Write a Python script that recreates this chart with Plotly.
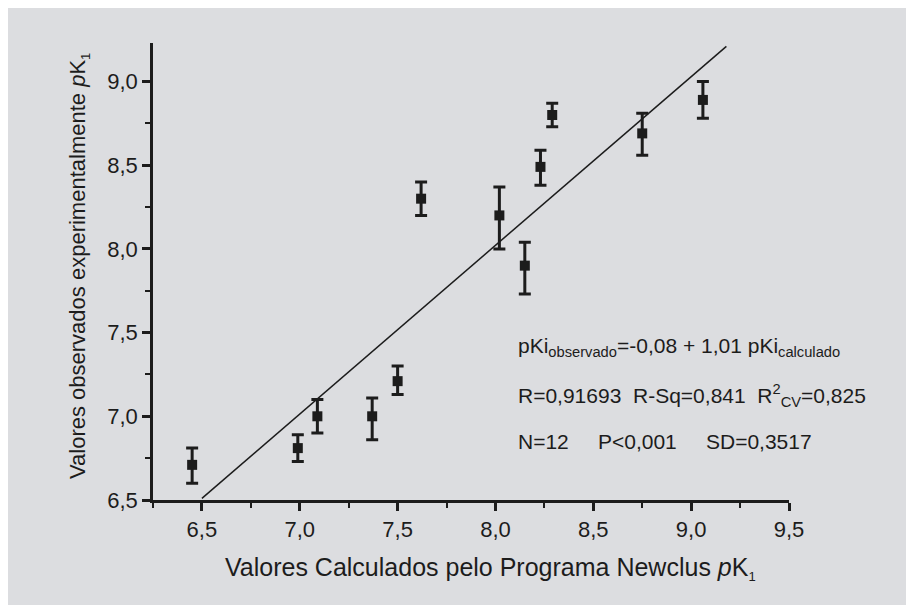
import plotly.graph_objects as go

# ---- data ----
calc_pk = [6.45, 6.99, 7.09, 7.37, 7.50, 7.62, 8.02, 8.15, 8.23, 8.29, 8.75, 9.06]
obs_pk = [6.71, 6.81, 7.00, 7.00, 7.21, 8.30, 8.20, 7.90, 8.49, 8.80, 8.69, 8.89]
err_plus = [0.10, 0.08, 0.10, 0.11, 0.09, 0.10, 0.17, 0.14, 0.10, 0.07, 0.12, 0.11]
err_minus = [0.11, 0.08, 0.10, 0.14, 0.08, 0.10, 0.20, 0.17, 0.11, 0.07, 0.13, 0.11]

fit_x = [6.50, 9.18]
fit_y = [6.51, 9.21]

x_tick_vals = [6.5, 7.0, 7.5, 8.0, 8.5, 9.0, 9.5]
x_tick_text = ["6,5", "7,0", "7,5", "8,0", "8,5", "9,0", "9,5"]
y_tick_vals = [6.5, 7.0, 7.5, 8.0, 8.5, 9.0]
y_tick_text = ["6,5", "7,0", "7,5", "8,0", "8,5", "9,0"]

stat_lines = [
    "pKi<sub>observado</sub>=-0,08 + 1,01 pKi<sub>calculado</sub>",
    "R=0,91693\u00a0\u00a0R-Sq=0,841\u00a0\u00a0R<sup>2</sup><sub>CV</sub>=0,825",
    "N=12\u00a0\u00a0\u00a0\u00a0\u00a0P<0,001\u00a0\u00a0\u00a0\u00a0\u00a0SD=0,3517",
]

BG = "#dcdde0"
INK = "#1c1c1c"
FONT = "Liberation Sans, Arial, sans-serif"

fig = go.Figure()

fig.add_trace(go.Scatter(
    x=fit_x, y=fit_y, mode="lines",
    line=dict(color=INK, width=1.5),
    showlegend=False, hoverinfo="skip",
))

fig.add_trace(go.Scatter(
    x=calc_pk, y=obs_pk, mode="markers",
    marker=dict(symbol="square", size=10, color=INK),
    error_y=dict(type="data", symmetric=False, array=err_plus, arrayminus=err_minus,
                 color=INK, thickness=3, width=6),
    showlegend=False,
))

W, H = 914, 605
OFF = 8  # page body margin
L, R, T, B = 145, 133, 35, 113
pw, ph = W - L - R, H - T - B

def px_x(p):  # p = page pixel
    return (p - OFF - L) / pw

def px_y(p):
    return (H - B - (p - OFF)) / ph

# statistics text
stat_y_px = [347, 395, 441]
for txt, yp in zip(stat_lines, stat_y_px):
    fig.add_annotation(text=txt, xref="paper", yref="paper",
                       x=px_x(516), y=px_y(yp), xanchor="left", yanchor="middle",
                       showarrow=False, font=dict(family=FONT, size=21, color=INK))

# axis titles
fig.add_annotation(text="Valores observados experimentalmente <i>p</i>K<sub><span style='font-size:13px'>1</span></sub>",
                   xref="paper", yref="paper", x=px_x(79), y=px_y(266),
                   xanchor="center", yanchor="middle", textangle=-90, showarrow=False,
                   font=dict(family=FONT, size=22, color=INK))
fig.add_annotation(text="Valores Calculados pelo Programa Newclus <i>p</i>K<sub><span style='font-size:13px'>1</span></sub>",
                   xref="paper", yref="paper", x=px_x(490), y=px_y(568),
                   xanchor="center", yanchor="middle", showarrow=False,
                   font=dict(family=FONT, size=25, color=INK))

fig.update_layout(
    width=W, height=H,
    margin=dict(l=L, r=R, t=T, b=B, pad=0),
    paper_bgcolor=BG, plot_bgcolor=BG,
    showlegend=False,
)
fig.update_xaxes(
    range=[6.25, 9.5], showgrid=False, zeroline=False,
    showline=True, linecolor=INK, linewidth=2.5,
    ticks="outside", ticklen=8, tickwidth=2.5, tickcolor=INK,
    tickvals=x_tick_vals, ticktext=x_tick_text,
    tickfont=dict(family=FONT, size=22, color=INK),
    minor=dict(ticks="outside", ticklen=5, tickwidth=2, tickcolor=INK, dtick=0.25, tick0=6.25, showgrid=False),
)
fig.update_yaxes(
    range=[6.5, 9.23], showgrid=False, zeroline=False,
    showline=True, linecolor=INK, linewidth=2.5,
    ticks="outside", ticklen=8, tickwidth=2.5, tickcolor=INK,
    tickvals=y_tick_vals, ticktext=y_tick_text,
    tickfont=dict(family=FONT, size=22, color=INK),
    minor=dict(ticks="outside", ticklen=5, tickwidth=2, tickcolor=INK, dtick=0.25, tick0=6.5, showgrid=False),
)

fig.write_html("out.html")
